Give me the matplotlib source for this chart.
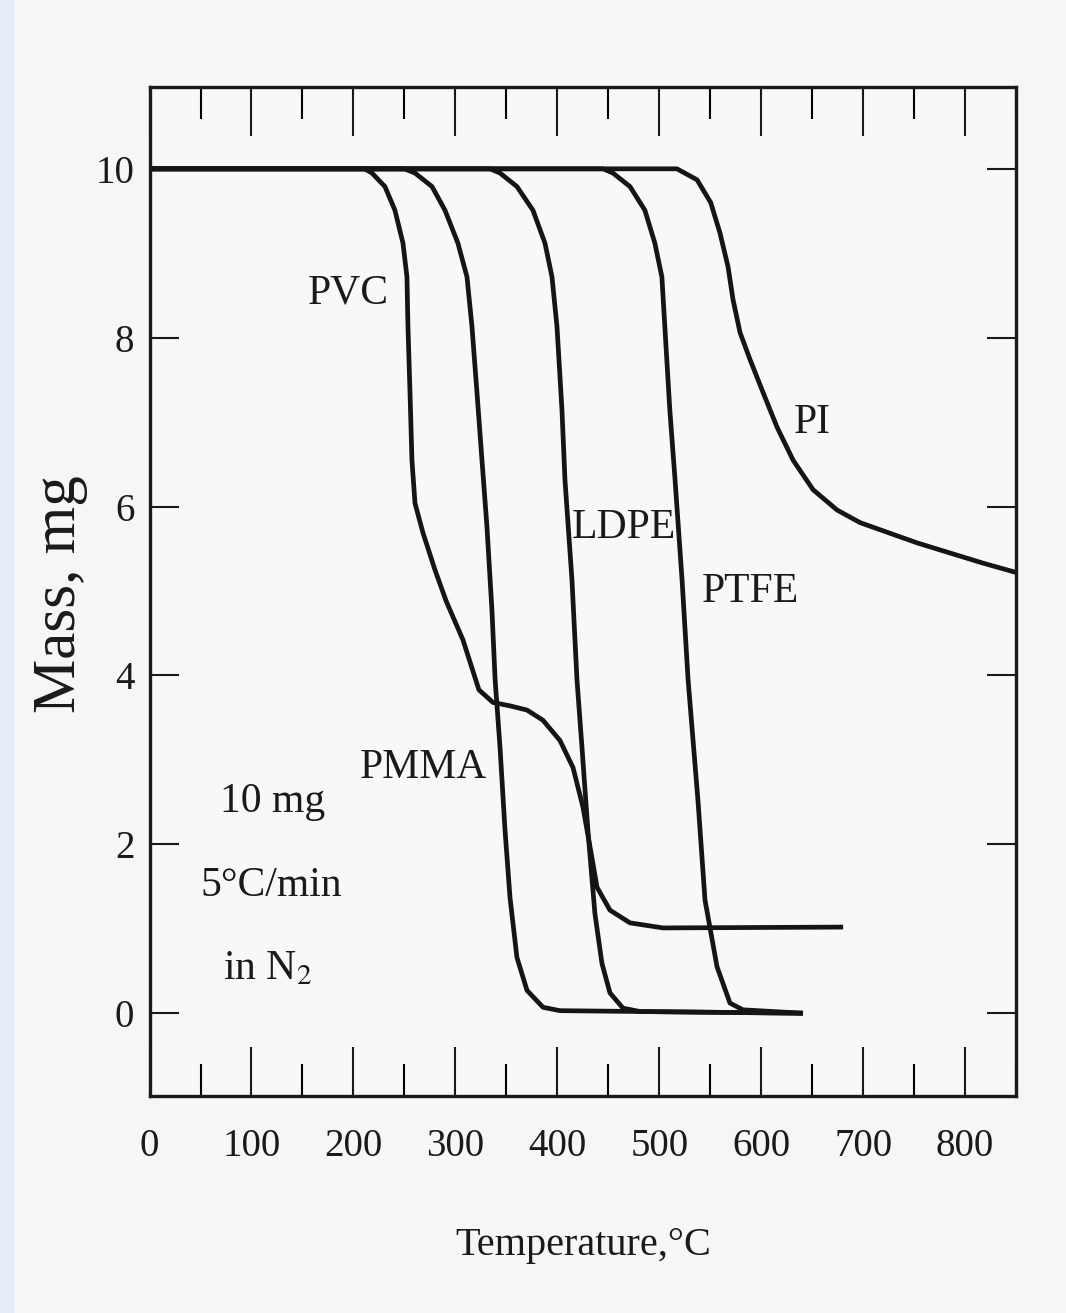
import matplotlib
matplotlib.use("Agg")
import matplotlib.pyplot as plt
from matplotlib.ticker import MultipleLocator, FixedLocator
from matplotlib.patches import Rectangle

plt.rcParams['font.family'] = ['Liberation Serif', 'DejaVu Serif']
plt.rcParams['mathtext.fontset'] = 'stix'

# ---- data ----
pvc_T = [0, 211, 218.2, 230.9, 240.7, 248.6, 252.5, 253.5, 255.5, 257.4, 260.4, 268.2, 280.0, 291.0,
         307.5, 323.1, 336.9, 353.6, 370.3, 385.9, 402.6, 415.4, 425.2, 432.1, 439.0, 451.7,
         471.3, 503.7, 680.4]
pvc_m = [10, 10, 9.95, 9.79, 9.51, 9.12, 8.72, 8.13, 7.35, 6.55, 6.04, 5.69, 5.25, 4.88,
         4.42, 3.83, 3.68, 3.64, 3.59, 3.47, 3.23, 2.91, 2.44, 1.97, 1.49, 1.22,
         1.07, 1.01, 1.02]

pmma_T = [0, 250, 260.4, 277.1, 289.8, 302.5, 311.4, 316.3, 321.2, 326.1, 331.0, 335.9, 339.0, 343.8,
          348.7, 353.6, 360.4, 370.3, 386.0, 402.6, 641]
pmma_m = [10, 10, 9.95, 9.79, 9.51, 9.12, 8.72, 8.13, 7.35, 6.55, 5.76, 4.77, 3.95, 3.15,
          2.17, 1.37, 0.66, 0.27, 0.07, 0.03, 0.0]

ldpe_T = [0, 334, 343.8, 360.4, 376.1, 387.9, 394.8, 399.7, 404.6, 407.5, 414.4, 419.3, 424.2, 430.0,
          436.9, 443.8, 451.7, 464.4, 481.0, 641]
ldpe_m = [10, 10, 9.95, 9.79, 9.51, 9.12, 8.72, 8.13, 7.14, 6.32, 5.13, 3.95, 3.15, 2.17,
          1.18, 0.59, 0.24, 0.06, 0.02, 0.0]

ptfe_T = [0, 445, 454.6, 471.3, 485.9, 495.7, 502.6, 505.5, 510.4, 515.5, 522.4, 528.3, 538.0, 544.9,
          556.7, 569.4, 582.1, 641]
ptfe_m = [10, 10, 9.95, 9.79, 9.51, 9.12, 8.72, 8.13, 7.14, 6.32, 5.13, 3.95, 2.52, 1.34,
          0.55, 0.12, 0.04, 0.0]

pi_T = [0, 517.4, 537.1, 550.5, 559.6, 567.5, 572.4, 579.3, 589.1, 601.9, 615.6, 631.3, 650.9,
        674.4, 697.0, 753.0, 817.7, 850]
pi_m = [10, 10, 9.87, 9.60, 9.24, 8.84, 8.45, 8.06, 7.74, 7.35, 6.94, 6.55, 6.20,
        5.96, 5.81, 5.57, 5.33, 5.22]

series_names = ['PVC', 'PMMA', 'LDPE', 'PTFE', 'PI']
series_T = [pvc_T, pmma_T, ldpe_T, ptfe_T, pi_T]
series_m = [pvc_m, pmma_m, ldpe_m, ptfe_m, pi_m]

x_major = [0, 100, 200, 300, 400, 500, 600, 700, 800]
y_major = [0, 2, 4, 6, 8, 10]

# ---- figure ----
fig = plt.figure(figsize=(10.66, 13.13), dpi=100, facecolor='#f6f6f6')
fig.patches.append(Rectangle((0, 0), 14 / 1066, 1, transform=fig.transFigure,
                             facecolor='#e6eef8', edgecolor='none', zorder=0))
ax = fig.add_axes([0.1403, 0.1653, 0.8128, 0.7685])
ax.set_facecolor('#f8f8f8')

for T, m in zip(series_T, series_m):
    ax.plot(T, m, color='#151515', lw=3.4, solid_joinstyle='round', solid_capstyle='butt')

ax.set_xlim(0, 850)
ax.set_ylim(-0.98, 10.97)

ax.xaxis.set_major_locator(FixedLocator(x_major))
ax.xaxis.set_minor_locator(MultipleLocator(50))
ax.yaxis.set_major_locator(FixedLocator(y_major))
ax.set_xticklabels([str(v) for v in x_major])
ax.set_yticklabels([str(v) for v in y_major])

ax.tick_params(axis='x', which='major', direction='in', length=35, width=1.5,
               top=True, bottom=True, labelsize=28, pad=23, colors='#1a1a1a')
ax.tick_params(axis='x', which='minor', direction='in', length=23, width=1.5,
               top=True, bottom=True)
ax.tick_params(axis='y', which='major', direction='in', length=21, width=1.5,
               left=True, right=True, labelsize=28, pad=11, colors='#1a1a1a')

for s in ax.spines.values():
    s.set_linewidth(2.4)
    s.set_color('#1a1a1a')

ax.set_xlabel('Temperature,°C', fontsize=29, color='#1a1a1a')
ax.xaxis.set_label_coords(0.5, -0.148)
ax.xaxis.label.set_verticalalignment('center')
ax.set_ylabel('Mass, mg', fontsize=44, color='#1a1a1a')
ax.yaxis.set_label_coords(-0.103, 0.4975)
ax.yaxis.label.set_verticalalignment('center')

# ---- annotations ----
fs = 30
ax.text(194.7, 8.53, 'PVC', fontsize=fs, ha='center', va='center', color='#1a1a1a')
ax.text(650, 6.99, 'PI', fontsize=fs, ha='center', va='center', color='#1a1a1a')
ax.text(465.5, 5.75, 'LDPE', fontsize=fs, ha='center', va='center', color='#1a1a1a')
ax.text(589, 4.99, 'PTFE', fontsize=fs, ha='center', va='center', color='#1a1a1a')
ax.text(268.5, 2.91, 'PMMA', fontsize=fs, ha='center', va='center', color='#1a1a1a')
ax.text(121, 2.50, '10 mg', fontsize=fs, ha='center', va='center', color='#1a1a1a')
ax.text(119, 1.51, '5°C/min', fontsize=fs, ha='center', va='center', color='#1a1a1a')
ax.text(116, 0.52, 'in N$_2$', fontsize=fs, ha='center', va='center', color='#1a1a1a')

fig.savefig('out.png', dpi=100, facecolor=fig.get_facecolor())
